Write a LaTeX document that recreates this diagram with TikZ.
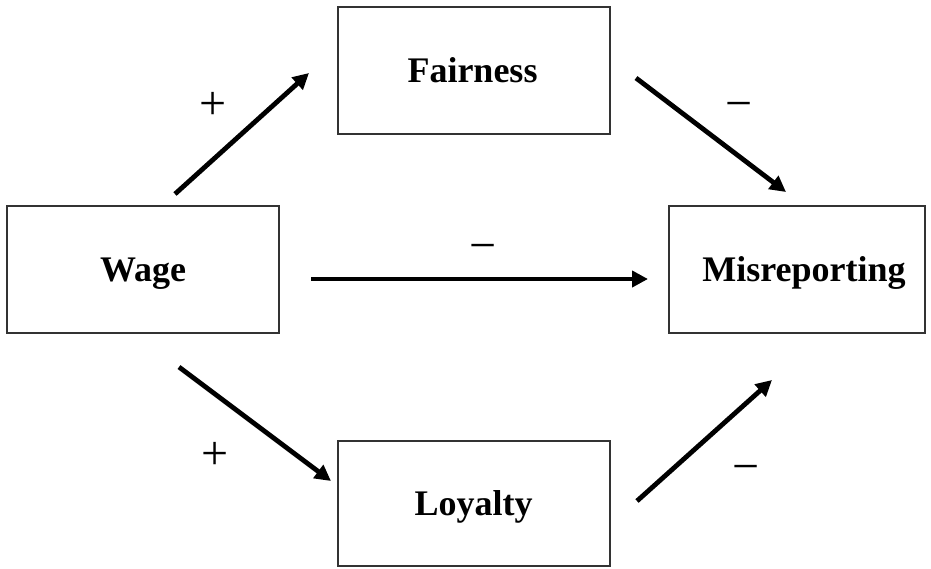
\documentclass[tikz,border=0pt]{standalone}
\usepackage{fontspec}
\setmainfont{Liberation Serif}
\usetikzlibrary{arrows.meta}
\begin{document}
\begin{tikzpicture}[x=1pt,y=-1pt,
  box/.style={draw=black!80,line width=1.2pt,rectangle,inner sep=0pt,minimum width=272pt,minimum height=127pt},
  lbl/.style={inner sep=0pt,text depth=0pt,font=\fontsize{36}{40}\selectfont\bfseries},
  conn/.style={line width=4.8pt,-{Triangle[length=16pt,width=16pt]}},
  sign/.style={font=\fontsize{48}{52}\selectfont,inner sep=0pt}]
\useasboundingbox (0,0) rectangle (931,568);
\node[box] (fair) at (474,70.5) {};
\node[box] (wage) at (143,269.5) {};
\node[box,minimum width=256pt] (mis) at (797,269.5) {};
\node[box,minimum height=125pt] (loy) at (474,503.5) {};
\node[lbl] (tfair) at (472.5,70.5) {Fairness};
\node[lbl] (twage) at (143,269.5) {Wage};
\node[lbl] (tmis) at (804,269) {Misreporting};
\node[lbl] (tloy) at (473.5,503.5) {Loyalty};
\coordinate (a1) at (175,194); \coordinate (a2) at (309,73);
\coordinate (b1) at (636,78); \coordinate (b2) at (786,192);
\coordinate (c1) at (311,279); \coordinate (c2) at (648,279);
\coordinate (d1) at (179,367); \coordinate (d2) at (331,481);
\coordinate (e1) at (637,501); \coordinate (e2) at (772,380);
\draw[conn] (a1) -- (a2);
\draw[conn] (b1) -- (b2);
\draw[conn] (c1) -- (c2);
\draw[conn] (d1) -- (d2);
\draw[conn] (e1) -- (e2);
\node[sign] (s1) at (213,106) {+};
\node[sign] (s2) at (739,111) {−};
\node[sign] (s3) at (483,253) {−};
\node[sign] (s4) at (215,456) {+};
\node[sign] (s5) at (746,474) {−};
\end{tikzpicture}
\end{document}
